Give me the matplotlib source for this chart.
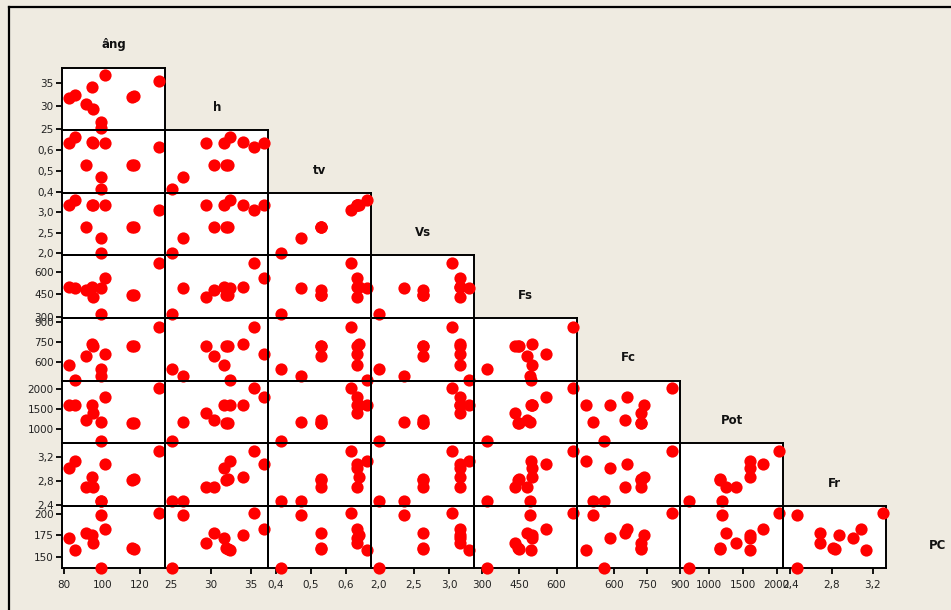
import matplotlib
matplotlib.use("Agg")
import matplotlib.pyplot as plt
from matplotlib.patches import Rectangle
from matplotlib.lines import Line2D
from matplotlib.ticker import FixedLocator, FixedFormatter

# variables of the scatter-plot matrix (lower triangle)
names = ["âng", "h", "tv", "Vs", "Fs", "Fc", "Pot", "Fr", "PC"]

ang = [82.7, 85.5, 91.3, 94.7, 95.0, 99.6, 99.6, 101.4, 115.9, 130.3, 116.9]
h   = [31.65, 32.4, 30.4, 34.0, 29.4, 26.6, 25.2, 36.65, 31.9, 35.4, 32.1]
tv  = [0.630, 0.659, 0.528, 0.638, 0.630, 0.473, 0.414, 0.630, 0.528, 0.614, 0.528]
vs  = [3.163, 3.284, 2.627, 3.163, 3.163, 2.363, 2.014, 3.163, 2.627, 3.043, 2.627]
fs  = [502, 496.6, 479.7, 502, 430.4, 493, 317.6, 558.8, 446, 665.5, 447]
fc  = [580, 469, 650, 735, 723, 501, 550.5, 659, 723, 861, 720]
pot = [1607, 1607, 1245, 1607, 1400, 1190, 707, 1800, 1157, 2032, 1165]
fr  = [3.01, 3.13, 2.69, 2.87, 2.69, 2.47, 2.47, 3.08, 2.81, 3.30, 2.83]
pc  = [171.7, 157.9, 177.6, 175.6, 166.5, 199.2, 137.0, 182.3, 160.6, 201.9, 159.6]

data = {"âng": ang, "h": h, "tv": tv, "Vs": vs, "Fs": fs,
        "Fc": fc, "Pot": pot, "Fr": fr, "PC": pc}

ticks = {"âng": [80, 100, 120], "h": [25, 30, 35], "tv": [0.4, 0.5, 0.6],
         "Vs": [2.0, 2.5, 3.0], "Fs": [300, 450, 600], "Fc": [600, 750, 900],
         "Pot": [1000, 1500, 2000], "Fr": [2.4, 2.8, 3.2], "PC": [150, 175, 200]}
decimal_vars = {"tv", "Vs", "Fr"}

# axis ranges used when a variable is on the horizontal / vertical axis
xlims = {"âng": (78.94, 133.37), "h": (24.33, 37.18), "tv": (0.3787, 0.672),
         "Vs": (1.9007, 3.3596), "Fs": (267.4, 684.1), "Fc": (430.7, 900.2),
         "Pot": (578.9, 2095.8), "Fr": (2.333, 3.329)}
ylims = {"h": (24.83, 38.26), "tv": (0.3984, 0.6916), "Vs": (1.954, 3.459),
         "Fs": (291.2, 714.2), "Fc": (465.5, 928.2), "Pot": (655, 2220),
         "Fr": (2.388, 3.425), "PC": (136.3, 210.1)}


def tick_labels(var):
    if var in decimal_vars:
        return [f"{t:.1f}".replace(".", ",") for t in ticks[var]]
    return [str(t) for t in ticks[var]]


W, H = 951, 610
BG = "#efebe1"
fig = plt.figure(figsize=(W / 100, H / 100), dpi=100, facecolor=BG)

LEFT, TOP, CW, CH = 62.3, 67.5, 103.0, 62.6
n = len(names)


def frac_rect(x0, y0, w, hgt):
    return [x0 / W, 1 - (y0 + hgt) / H, w / W, hgt / H]


# outer frame lines
fig.add_artist(Line2D([9 / W, 1.0], [1 - 7 / H, 1 - 7 / H], color="black",
                      lw=1.6, transform=fig.transFigure))
fig.add_artist(Line2D([9 / W, 9 / W], [0.0, 1 - 7 / H], color="black",
                      lw=1.6, transform=fig.transFigure))

for r in range(1, n):
    for c in range(r):
        x0 = LEFT + CW * c
        y0 = TOP + CH * (r - 1)
        fig.add_artist(Rectangle((x0 / W, 1 - (y0 + CH) / H), CW / W, CH / H,
                                 transform=fig.transFigure, facecolor="white",
                                 edgecolor="none", zorder=-5))
        ax = fig.add_axes(frac_rect(x0, y0, CW, CH))
        ax.set_facecolor("none")
        xv, yv = names[c], names[r]
        ax.plot(data[xv], data[yv], linestyle="none", marker="o",
                markersize=8.8, color="#ff0000", markeredgewidth=0,
                clip_on=False, zorder=3)
        ax.set_xlim(*xlims[xv])
        ax.set_ylim(*ylims[yv])
        for sp in ax.spines.values():
            sp.set_linewidth(1.4)
            sp.set_color("black")
        ax.tick_params(direction="out", length=4.2, width=1.3, color="black",
                       labelsize=7.5, labelcolor="#222222")
        if c == 0:
            ax.yaxis.set_major_locator(FixedLocator(ticks[yv]))
            ax.yaxis.set_major_formatter(FixedFormatter(tick_labels(yv)))
            ax.tick_params(axis="y", pad=2)
        else:
            ax.set_yticks([])
        if r == n - 1:
            ax.xaxis.set_major_locator(FixedLocator(ticks[xv]))
            ax.xaxis.set_major_formatter(FixedFormatter(tick_labels(xv)))
            ax.tick_params(axis="x", pad=4)
        else:
            ax.set_xticks([])

# variable names on the diagonal
for k, name in enumerate(names):
    cx = LEFT + CW * k + CW / 2
    cy = TOP + CH * (k - 1) + 0.64 * CH
    fig.text(cx / W, 1 - cy / H, name, ha="center", va="center",
             fontsize=8.5, fontweight="bold", color="#111111")

fig.savefig("out.png", dpi=100, facecolor=BG)
